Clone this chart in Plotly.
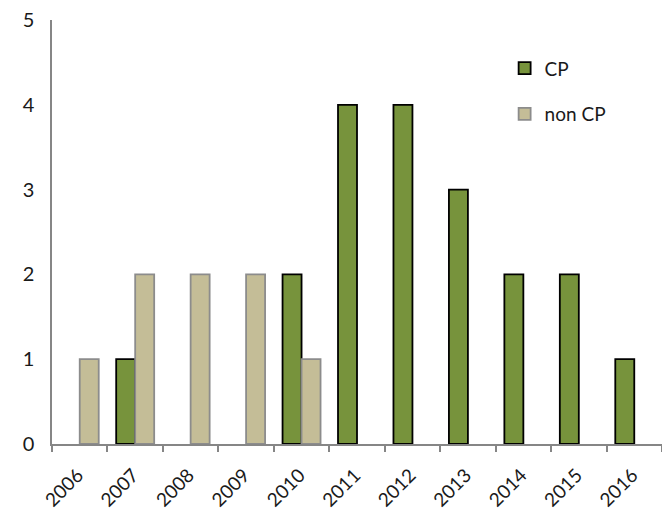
import plotly.graph_objects as go

years = ["2006", "2007", "2008", "2009", "2010", "2011", "2012", "2013", "2014", "2015", "2016"]
cp = [None, 1, None, None, 2, 4, 4, 3, 2, 2, 1]
non_cp = [1, 2, 2, 2, 1, None, None, None, None, None, None]

FONT = "Lato"
TXT = "#1a1a1a"

fig = go.Figure()
fig.add_trace(go.Bar(
    x=years, y=cp, name="CP", legendgroup="a",
    marker=dict(color="#77933C", line=dict(color="#000000", width=1.8)),
))
fig.add_trace(go.Bar(
    x=years, y=non_cp, name="non CP", legendgroup="b",
    marker=dict(color="#C4BD97", line=dict(color="#8C8C8C", width=1.8)),
))

fig.update_layout(
    width=670, height=511,
    margin=dict(l=44, r=16, t=12, b=75),
    paper_bgcolor="white", plot_bgcolor="white",
    barmode="group", bargap=0.315, bargroupgap=0,
    font=dict(family=FONT, size=19, color=TXT),
    showlegend=True,
    legend=dict(
        x=0.742, y=0.931, xanchor="left", yanchor="top",
        bgcolor="rgba(0,0,0,0)", traceorder="grouped", tracegroupgap=18,
        font=dict(family=FONT, size=19, color=TXT),
        itemwidth=30,
    ),
    xaxis=dict(
        type="category", showline=True, linecolor="#868686", linewidth=1.5,
        ticks="outside", ticklen=6, tickcolor="#868686", tickwidth=1.5,
        tickson="boundaries", tickangle=-45, showgrid=False, zeroline=False,
        automargin=False, ticklabelstandoff=11, ticklabelshift=-2,
        ticklabeloverflow="allow",
        tickfont=dict(family=FONT, size=19, color=TXT),
    ),
    yaxis=dict(
        range=[0, 5], dtick=1, showline=True, linecolor="#868686", linewidth=1.5,
        ticks="", showgrid=False, zeroline=False, automargin=False,
        ticklabelstandoff=12, ticklabeloverflow="allow",
        tickfont=dict(family=FONT, size=20, color=TXT),
    ),
)

fig.write_html("out.html")
